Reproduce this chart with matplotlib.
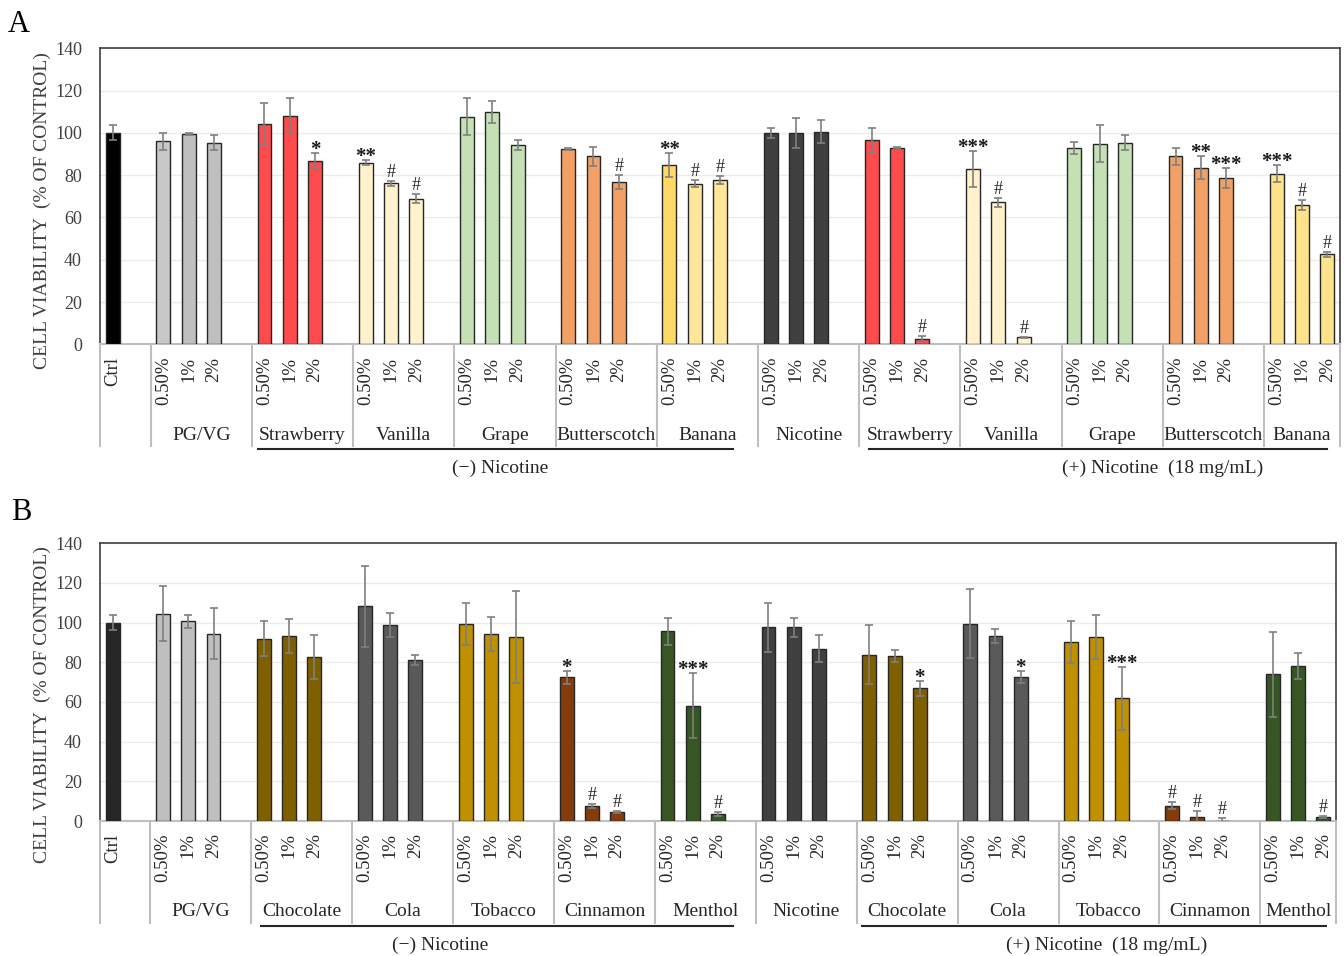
import matplotlib.pyplot as plt

plt.rcParams['font.family'] = ['Liberation Serif', 'DejaVu Serif']

conc = ["0.50%", "1%", "2%"]

# ---- panel A: fruit / sweet flavours ----
groups_a = ["PG/VG", "Strawberry", "Vanilla", "Grape", "Butterscotch", "Banana",
            "Nicotine", "Strawberry", "Vanilla", "Grape", "Butterscotch", "Banana"]
ctrl_a, ctrl_err_a = 100.0, 3.6
means_a = [[96.0, 99.5, 95.4], [104.2, 108.2, 86.6], [85.9, 76.1, 68.9],
           [107.7, 110.0, 94.1], [92.4, 88.9, 76.6], [84.8, 76.0, 77.6],
           [100.0, 100.0, 100.6], [96.5, 93.0, 2.7], [82.9, 67.2, 3.3],
           [93.0, 94.8, 95.4], [88.9, 83.6, 78.8], [80.7, 65.9, 42.6]]
errs_a = [[3.9, 0.5, 3.5], [9.8, 8.4, 3.7], [1.3, 1.0, 2.3],
          [8.8, 5.1, 2.4], [0.6, 4.5, 3.3], [5.9, 1.5, 1.8],
          [2.4, 7.0, 5.4], [6.0, 0.5, 1.3], [8.4, 2.2, 0.3],
          [2.8, 8.8, 3.5], [3.9, 5.6, 4.7], [4.0, 2.4, 1.1]]
sigs_a = [["", "", ""], ["", "", "*"], ["**", "#", "#"],
          ["", "", ""], ["", "", "#"], ["**", "#", "#"],
          ["", "", ""], ["", "", "#"], ["***", "#", "#"],
          ["", "", ""], ["", "**", "***"], ["***", "#", "#"]]
colors_a = [["#c8c8c8", "#bfbfbf", "#bfbfbf"], ["#ff4b4b"] * 3, ["#fff2cc"] * 3,
            ["#c5e0b4"] * 3, ["#f1a066"] * 3, ["#ffd966", "#ffe699", "#ffe699"],
            ["#404040"] * 3, ["#ff4b4b"] * 3, ["#fff2cc"] * 3,
            ["#c5e0b4"] * 3, ["#f1a066"] * 3, ["#ffe38a"] * 3]

# ---- panel B: dessert / spice flavours ----
groups_b = ["PG/VG", "Chocolate", "Cola", "Tobacco", "Cinnamon", "Menthol",
            "Nicotine", "Chocolate", "Cola", "Tobacco", "Cinnamon", "Menthol"]
ctrl_b, ctrl_err_b = 100.0, 3.7
means_b = [[104.4, 100.7, 94.5], [91.9, 93.1, 82.5], [108.2, 98.8, 81.3],
           [99.3, 94.3, 92.6], [72.4, 7.7, 4.7], [95.6, 58.2, 3.4],
           [97.6, 97.6, 86.9], [83.9, 83.2, 66.9], [99.5, 93.3, 72.6],
           [90.1, 92.6, 61.8], [7.6, 1.8, 0.2], [73.9, 78.2, 2.0]]
errs_b = [[13.9, 3.4, 12.9], [8.9, 8.6, 11.1], [20.5, 6.2, 2.5],
          [10.7, 8.7, 23.2], [3.4, 1.0, 0.5], [6.9, 16.6, 1.0],
          [12.3, 4.9, 6.9], [15.0, 3.0, 3.9], [17.5, 3.7, 3.0],
          [10.5, 11.1, 16.0], [1.8, 3.2, 1.3], [21.5, 6.4, 0.5]]
sigs_b = [["", "", ""], ["", "", ""], ["", "", ""],
          ["", "", ""], ["*", "#", "#"], ["", "***", "#"],
          ["", "", ""], ["", "", "*"], ["", "", "*"],
          ["", "", "***"], ["#", "#", "#"], ["", "", "#"]]
colors_b = [["#bfbfbf"] * 3, ["#7f6000"] * 3, ["#595959"] * 3,
            ["#bf9000"] * 3, ["#843c0c"] * 3, ["#375623"] * 3,
            ["#404040"] * 3, ["#7f6000"] * 3, ["#595959"] * 3,
            ["#bf9000"] * 3, ["#843c0c"] * 3, ["#375623"] * 3]

W, H = 1344, 956
fig = plt.figure(figsize=(W / 100, H / 100), dpi=100)


def draw_panel(ax, ctrl, ctrl_err, ctrl_color, groups, means, errs, sigs, colors,
               minus_line, plus_line, minus_x, plus_x):
    h_px = ax.get_position().height * H
    below = lambda px: -px / h_px
    trans = ax.get_xaxis_transform()

    xs = [0]
    vals = [ctrl]
    es = [ctrl_err]
    cols = [ctrl_color]
    labs = [""]
    for k in range(len(groups)):
        for i in range(3):
            xs.append(2 + 4 * k + i)
            vals.append(means[k][i])
            es.append(errs[k][i])
            cols.append(colors[k][i])
            labs.append(sigs[k][i])

    ax.bar(xs, vals, width=0.55, color=cols, edgecolor="#262626", linewidth=1, zorder=3)
    ax.errorbar(xs, vals, yerr=es, fmt="none", ecolor="#7f7f7f", elinewidth=1.2,
                capsize=3, capthick=1.2, zorder=4)
    for x, v, e, s in zip(xs, vals, es, labs):
        if s.startswith("*"):
            # heavy asterisks, baseline sits just on top of the error bar
            ax.annotate(s, (x, v + e), xytext=(0, -1.5), textcoords="offset points",
                        ha="center", va="baseline", fontsize=15, fontweight="bold",
                        color="#1a1a1a")
        elif s:
            ax.annotate(s, (x, v + e), xytext=(0, 0), textcoords="offset points",
                        ha="center", va="bottom", fontsize=13, color="#262626")

    ax.set_xlim(-0.5, 48.5)
    ax.set_ylim(0, 140)
    ax.set_yticks(range(0, 141, 20))
    ax.set_xticks(xs, labels=["Ctrl"] + conc * len(groups), rotation=90)
    ax.tick_params(axis="x", length=0, pad=9, labelsize=13.5, labelcolor="#262626")
    ax.tick_params(axis="y", length=0, pad=13, labelsize=13, labelcolor="#404040")
    ax.yaxis.grid(True, color="#ebebeb", lw=1)
    ax.set_axisbelow(True)
    for side in ("top", "left", "right"):
        ax.spines[side].set_color("#404040")
        ax.spines[side].set_linewidth(1.2)
    ax.spines["bottom"].set_color("#bfbfbf")
    ax.spines["bottom"].set_linewidth(1.5)

    # multi-level category axis
    bounds = [-0.5] + [1.5 + 4 * k for k in range(len(groups))] + [48.5]
    for xb in bounds:
        ax.plot([xb, xb], [0, below(102)], transform=trans, color="#bfbfbf",
                lw=1.5, clip_on=False)
    for k, name in enumerate(groups):
        cx = (bounds[k + 1] + bounds[k + 2]) / 2
        ax.text(cx, below(91), name, transform=trans, ha="center", va="center",
                fontsize=14, color="#262626")
    for a, b in (minus_line, plus_line):
        ax.plot([a, b], [below(105)] * 2, transform=trans, color="#262626",
                lw=1.5, clip_on=False)
    ax.text(minus_x, below(124), "(\u2212) Nicotine", transform=trans,
            ha="center", va="center", fontsize=14, color="#262626")
    ax.text(plus_x, below(124), "(+) Nicotine  (18 mg/mL)", transform=trans,
            ha="center", va="center", fontsize=14, color="#262626")


ax_a = fig.add_axes([100 / W, 1 - 344.3 / H, 1240 / W, 296 / H])
draw_panel(ax_a, ctrl_a, ctrl_err_a, "#000000", groups_a, means_a, errs_a, sigs_a,
           colors_a, (5.75, 24.5), (29.9, 48.0), 15.3, 41.5)

ax_b = fig.add_axes([100 / W, 1 - 821 / H, 1236 / W, 277.7 / H])
draw_panel(ax_b, ctrl_b, ctrl_err_b, "#262626", groups_b, means_b, errs_b, sigs_b,
           colors_b, (5.9, 24.6), (29.7, 48.1), 13.0, 39.4)

ylab = "CELL VIABILITY  (% OF CONTROL)"
fig.text(42 / W, 1 - 211 / H, ylab, rotation=90, ha="center", va="center",
         fontsize=14, color="#404040")
fig.text(42 / W, 1 - 705 / H, ylab, rotation=90, ha="center", va="center",
         fontsize=14, color="#404040")
fig.text(19 / W, 1 - 24 / H, "A", ha="center", va="center", fontsize=22)
fig.text(21 / W, 1 - 513 / H, "B", ha="center", va="center", fontsize=22)

fig.savefig("out.png", dpi=100)
